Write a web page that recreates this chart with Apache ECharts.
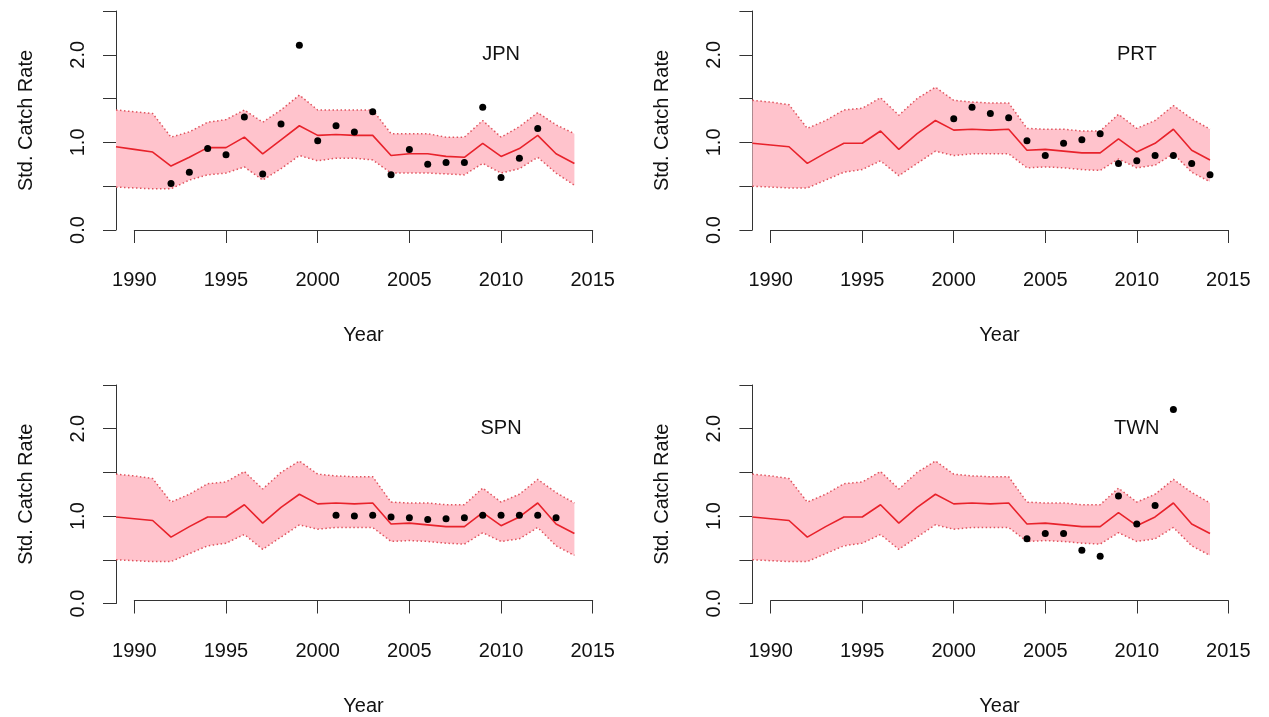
<!DOCTYPE html>
<html>
<head>
<meta charset="utf-8">
<script src="https://cdn.jsdelivr.net/npm/echarts@6/dist/echarts.min.js"></script>
<style>
html,body{margin:0;padding:0;background:#fff;}
#chart{width:1269px;height:717px;}
</style>
</head>
<body>
<div id="chart"></div>
<script>
// ---- data ----
const years = [1989,1990,1991,1992,1993,1994,1995,1996,1997,1998,1999,2000,2001,2002,2003,2004,2005,2006,2007,2008,2009,2010,2011,2012,2013,2014];

// JPN model estimate and bounds
const jpnEst = [0.95,0.92,0.89,0.73,0.83,0.94,0.94,1.06,0.87,1.03,1.19,1.08,1.09,1.08,1.08,0.85,0.87,0.87,0.84,0.83,0.99,0.84,0.93,1.08,0.87,0.76];
const jpnUpper = [1.37,1.35,1.33,1.06,1.12,1.23,1.26,1.37,1.23,1.37,1.54,1.37,1.37,1.37,1.37,1.10,1.10,1.10,1.06,1.06,1.25,1.06,1.18,1.34,1.20,1.10];
const jpnLower = [0.49,0.48,0.47,0.47,0.57,0.63,0.65,0.72,0.57,0.70,0.85,0.79,0.82,0.82,0.80,0.65,0.65,0.65,0.64,0.63,0.76,0.65,0.70,0.83,0.65,0.51];

// shared estimate and bounds (PRT, SPN, TWN panels)
const comEst = [0.99,0.97,0.95,0.76,0.88,0.99,0.99,1.13,0.92,1.10,1.25,1.14,1.15,1.14,1.15,0.91,0.92,0.90,0.88,0.88,1.04,0.89,0.99,1.15,0.91,0.80];
const comUpper = [1.48,1.46,1.43,1.16,1.25,1.37,1.39,1.51,1.31,1.50,1.63,1.48,1.46,1.45,1.45,1.16,1.15,1.15,1.13,1.13,1.32,1.16,1.25,1.42,1.27,1.15];
const comLower = [0.50,0.49,0.48,0.48,0.57,0.66,0.69,0.79,0.62,0.76,0.90,0.85,0.87,0.87,0.87,0.71,0.72,0.71,0.69,0.68,0.81,0.71,0.74,0.87,0.66,0.55];

// observed standardized catch rates
const jpnObsYears = [1992,1993,1994,1995,1996,1997,1998,1999,2000,2001,2002,2003,2004,2005,2006,2007,2008,2009,2010,2011,2012];
const jpnObs = [0.53,0.66,0.93,0.86,1.29,0.64,1.21,2.11,1.02,1.19,1.12,1.35,0.63,0.92,0.75,0.77,0.77,1.40,0.60,0.82,1.16];
const prtObsYears = [2000,2001,2002,2003,2004,2005,2006,2007,2008,2009,2010,2011,2012,2013,2014];
const prtObs = [1.27,1.40,1.33,1.28,1.02,0.85,0.99,1.03,1.10,0.76,0.79,0.85,0.85,0.76,0.63];
const spnObsYears = [2001,2002,2003,2004,2005,2006,2007,2008,2009,2010,2011,2012,2013];
const spnObs = [1.01,1.00,1.01,0.99,0.98,0.96,0.97,0.98,1.01,1.01,1.01,1.01,0.98];
const twnObsYears = [2004,2005,2006,2007,2008,2009,2010,2011,2012];
const twnObs = [0.74,0.80,0.80,0.61,0.54,1.23,0.91,1.12,2.22];

const panelNames = ['JPN','PRT','SPN','TWN'];
const labelPos = [2010, 2.0];
const xTicks = [1990, 2015, 5];
const yTicks = [0, 2.5, 0.5];

// ---- layout / style ----
const FONT = 'Liberation Sans, Arial, Helvetica, sans-serif';
const TXT = '#111';
const AX = '#333';
const RED = '#e8222b';
const PINK = '#ffc3cc';
const DOT = '#e0545e';

const panels = [
  {name:'JPN', est:jpnEst, up:jpnUpper, lo:jpnLower, oy:jpnObsYears, ov:jpnObs, dl:116,   al:134.3, aw:458.4, top:11,  h:219},
  {name:'PRT', est:comEst, up:comUpper, lo:comLower, oy:prtObsYears, ov:prtObs, dl:752.4, al:770.7, aw:457.6, top:11,  h:219},
  {name:'SPN', est:comEst, up:comUpper, lo:comLower, oy:spnObsYears, ov:spnObs, dl:116,   al:134.3, aw:458.4, top:385, h:218.5},
  {name:'TWN', est:comEst, up:comUpper, lo:comLower, oy:twnObsYears, ov:twnObs, dl:752.4, al:770.7, aw:457.6, top:385, h:218.5}
];

const grid = [], xAxis = [], yAxis = [], series = [];
panels.forEach((p, k) => {
  const pxPerYear = p.aw / (xTicks[1] - xTicks[0]);
  const dw = pxPerYear * (xTicks[1] - years[0]);
  const gData = grid.length;
  grid.push({left: p.dl, top: p.top, width: dw, height: p.h});
  const gAx = grid.length;
  grid.push({left: p.al, top: p.top, width: p.aw, height: p.h});

  // data grid axes
  xAxis.push({gridIndex: gData, type: 'value', min: years[0], max: xTicks[1], show: false});
  yAxis.push({
    gridIndex: gData, type: 'value', min: yTicks[0], max: yTicks[1], interval: yTicks[2],
    name: 'Std. Catch Rate', nameLocation: 'middle', nameGap: 80,
    nameTextStyle: {color: TXT, fontSize: 20, fontFamily: FONT},
    axisLine: {show: true, lineStyle: {color: AX, width: 1}},
    axisTick: {show: true, length: 13, lineStyle: {color: AX, width: 1}},
    splitLine: {show: false},
    axisLabel: {
      rotate: 90, margin: 28, color: TXT, fontSize: 20, fontFamily: FONT,
      formatter: v => (Math.abs(v - Math.round(v)) < 1e-6 ? v.toFixed(1) : '')
    }
  });
  const xData = xAxis.length - 1, yData = yAxis.length - 1;

  // visible x axis grid
  xAxis.push({
    gridIndex: gAx, type: 'value', min: xTicks[0], max: xTicks[1], interval: xTicks[2], offset: 9.5,
    name: 'Year', nameLocation: 'middle', nameGap: 86,
    nameTextStyle: {color: TXT, fontSize: 20, fontFamily: FONT},
    axisLine: {show: true, lineStyle: {color: AX, width: 1}},
    axisTick: {show: true, length: 13, lineStyle: {color: AX, width: 1}},
    splitLine: {show: false},
    axisLabel: {margin: 31, color: TXT, fontSize: 20, fontFamily: FONT, showMinLabel: true, showMaxLabel: true,
      formatter: v => String(v)}
  });
  yAxis.push({gridIndex: gAx, type: 'value', min: yTicks[0], max: yTicks[1], show: false});

  const up = p.up, lo = p.lo;
  // confidence band polygon
  series.push({
    type: 'custom', xAxisIndex: xData, yAxisIndex: yData, z: 1, silent: true,
    data: years.map((y, i) => [y, lo[i], up[i]]),
    renderItem: (params, api) => {
      if (params.dataIndex !== 0) return null;
      const pts = [];
      years.forEach((y, i) => pts.push(api.coord([y, up[i]])));
      for (let i = years.length - 1; i >= 0; i--) pts.push(api.coord([years[i], lo[i]]));
      return {type: 'polygon', shape: {points: pts}, style: {fill: PINK}};
    }
  });
  // dotted bounds
  [up, lo].forEach(arr => {
    series.push({
      type: 'line', xAxisIndex: xData, yAxisIndex: yData, z: 2, silent: true,
      data: years.map((y, i) => [y, arr[i]]), showSymbol: false, symbol: 'none',
      lineStyle: {color: DOT, width: 1.5, type: [1.5, 2.5]}
    });
  });
  // estimate line
  series.push({
    type: 'line', xAxisIndex: xData, yAxisIndex: yData, z: 3, silent: true,
    data: years.map((y, i) => [y, p.est[i]]), showSymbol: false, symbol: 'none',
    lineStyle: {color: RED, width: 1.6}
  });
  // observed points
  series.push({
    type: 'scatter', xAxisIndex: xData, yAxisIndex: yData, z: 4, silent: true,
    data: p.oy.map((y, i) => [y, p.ov[i]]), symbol: 'circle', symbolSize: 7,
    itemStyle: {color: '#000', opacity: 1}
  });
  // panel label
  series.push({
    type: 'scatter', xAxisIndex: xData, yAxisIndex: yData, z: 5, silent: true,
    data: [labelPos], symbolSize: 0, itemStyle: {opacity: 1},
    label: {show: true, position: 'inside', formatter: panelNames[k], color: TXT, opacity: 1, fontSize: 20, fontFamily: FONT}
  });
});

const chart = echarts.init(document.getElementById('chart'), null, {renderer: 'canvas'});
chart.setOption({animation: false, backgroundColor: '#fff', grid, xAxis, yAxis, series});
</script>
</body>
</html>
